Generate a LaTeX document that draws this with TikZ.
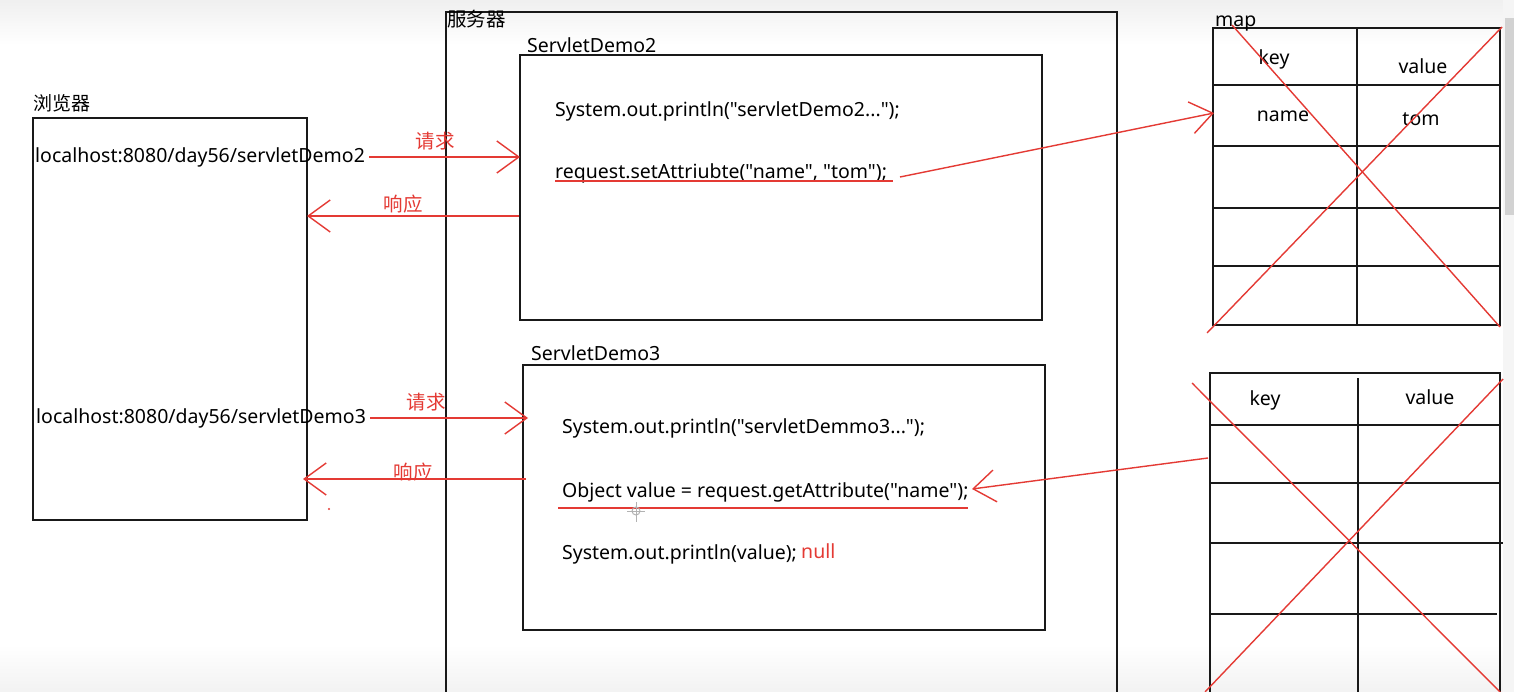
\documentclass[tikz,border=0pt]{standalone}
\usepackage{fontspec}
\setmainfont{Noto Sans}[Ligatures=TeXOff]
\newfontfamily\cjk{Noto Sans CJK SC}
\usetikzlibrary{arrows.meta}
\definecolor{ink}{RGB}{25,25,25}
\definecolor{pen}{RGB}{228,58,52}
\begin{document}
\begin{tikzpicture}[x=1pt,y=-1pt,
  box/.style={draw=ink, line width=1.8pt, anchor=north west, inner sep=0, outer sep=0},
  txt/.style={anchor=west, inner sep=0, yshift=-2pt, font=\fontsize{19.5}{23}\selectfont, text=black},
  cn/.style={anchor=west, inner sep=0, font=\cjk\fontsize{19}{22}\selectfont, text=black},
  redlbl/.style={inner sep=0, font=\cjk\fontsize{19.5}{22}\selectfont, text=pen},
  redarrow/.style={draw=pen, line width=1.4pt, -{Straight Barb[length=22pt,width=32pt,line width=1.4pt]}},
  redline/.style={draw=pen, line width=1.4pt},
  gridline/.style={draw=ink, line width=1.6pt},
  cell/.style={inner sep=0, yshift=-2pt, font=\fontsize{19.5}{23}\selectfont, text=black},
]
\useasboundingbox (0,0) rectangle (1514,692);
\clip (0,0) rectangle (1514,692);
\fill[white] (0,0) rectangle (1514,692);
\shade[top color=gray!12, bottom color=white] (0,0) rectangle (1514,45);
\shade[top color=white, bottom color=gray!10] (0,645) rectangle (1514,692);
% scrollbar
\fill[gray!8] (1503,0) rectangle (1514,692);
\fill[gray!35] (1505,18) rectangle (1514,215);

% server
\draw[ink, line width=1.8pt] (446,700) -- (446,12) -- (1117,12) -- (1117,700);
\node[cn, font=\cjk\fontsize{19.5}{22}\selectfont] (serverlbl) at (447,19) {服务器};

% browser
\node[box, minimum width=274pt, minimum height=402pt] (browser) at (33,118) {};
\node[cn] (browserlbl) at (33,103) {浏览器};
\node[txt] (url2) at (35,155) {localhost:8080/day56/servletDemo2};
\node[txt] (url3) at (36,416) {localhost:8080/day56/servletDemo3};

% ServletDemo2
\node[box, minimum width=522pt, minimum height=265pt] (demo2) at (520,55) {};
\node[txt] (demo2lbl) at (527,43) {ServletDemo2};
\node[txt] (print2) at (555,109) {System.out.println("servletDemo2...");};
\node[txt] (set2) at (555,171) {request.setAttriubte("name", "tom");};
\coordinate (u2a) at (555,181);
\coordinate (u2b) at (893,181);
\draw[redline] (u2a) -- (u2b);

% ServletDemo3
\node[box, minimum width=522pt, minimum height=265pt] (demo3) at (523,365) {};
\node[txt] (demo3lbl) at (531,351) {ServletDemo3};
\node[txt] (print3) at (562,426) {System.out.println("servletDemmo3...");};
\node[txt] (get3) at (562,490) {Object value = request.getAttribute("name");};
\node[txt] (print4) at (562,552) {System.out.println(value);};
\node[txt, text=pen] (null) at (801,549) {null};
\coordinate (u3a) at (558,508);
\coordinate (u3b) at (968,508);
\draw[redline] (u3a) -- (u3b);

% request / response arrows
\draw[redarrow] ([xshift=4pt]url2.east) -- (url2.east -| demo2.west);
\node[redlbl] (req1) at (435,141) {请求};
\coordinate (res2) at (519,216);
\draw[redarrow] (res2) -- (res2 -| browser.east);
\node[redlbl] (resp1) at (403,204) {响应};

\draw[redarrow] ([xshift=4pt]url3.east) -- ([xshift=5pt]demo3.west |- url3.east);
\node[redlbl] (req2) at (426,402) {请求};
\coordinate (res3) at (526,479);
\draw[redarrow] (res3) -- ([xshift=-4pt]browser.east |- res3);
\node[redlbl] (resp2) at (413,472) {响应};
\fill[pen] (329,509) circle (1.2pt);

% cursor
\draw[gray!60, line width=1pt] (636,511) circle (4pt);
\draw[gray!60, line width=1pt] (627,511) -- (645,511) (636,502) -- (636,522);

% map 1
\node[box, minimum width=287pt, minimum height=297pt] (map1) at (1213,28) {};
\node[txt] (maplbl) at (1215,22) {map};
\draw[gridline] (1357,28) -- (1357,325);
\foreach \yy in {85,146,208,266} \draw[gridline] (1213,\yy) -- (1500,\yy);
\node[cell] (k1) at (1274,57) {key};
\node[cell] (v1) at (1423,64) {value};
\node[cell] (n1) at (1283,114) {name};
\node[cell] (t1) at (1421,117) {tom};
\draw[redline] (1232,25) -- (1500,327);
\draw[redline] (1207,333) -- (1502,27);

% map 2
\draw[ink, line width=1.8pt] (1210,700) -- (1210,373) -- (1500,373) -- (1500,700);
\coordinate (map2in) at (1208,458);
\draw[gridline] (1358,378) -- (1358,700);
\draw[gridline] (1210,425) -- (1500,425);
\draw[gridline] (1210,483) -- (1500,483);
\draw[gridline] (1210,543) -- (1503,543);
\draw[gridline] (1210,614) -- (1497,614);
\node[cell] (k2) at (1265,398) {key};
\node[cell] (v2) at (1430,395) {value};
\draw[redline] (1192,383) -- (1500,692);
\draw[redline] (1205,692) -- (1503,379);

% attribute arrows
\coordinate (s2) at (900,177);
\coordinate (map1in) at (1214,113);
\draw[redarrow] (s2) -- (map1in);
\coordinate (g3) at (972,489);
\draw[redarrow] (map2in) -- (g3);
\end{tikzpicture}
\end{document}
